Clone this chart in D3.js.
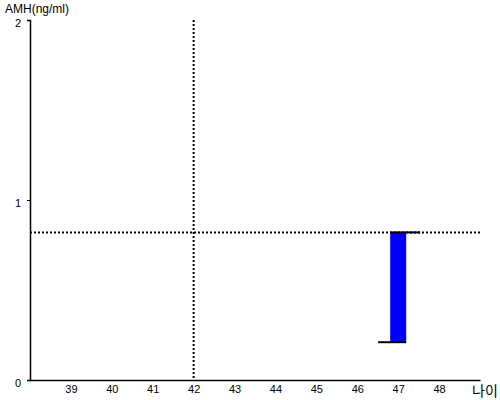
<!DOCTYPE html>
<html><head><meta charset="utf-8">
<script src="https://cdn.jsdelivr.net/npm/d3@7"></script>
<style>body{margin:0;background:#fff}text{font-family:Arial,"Liberation Sans",sans-serif}</style>
</head><body><svg id="c" width="500" height="400"></svg>
<script>
const xTicks = [39,40,41,42,43,44,45,46,47,48];
const yTicks = [0,1,2];
const barAges = [47];
const barLow = [0.21];
const barHigh = [0.82];
const refAge = [42];
const refAMH = [0.82];
const yTitle = "AMH(ng/ml)";
const xTitle = "나이";

const svg = d3.select("#c");
const x = d3.scaleLinear().domain([38,49]).range([30,480]);
const y = d3.scaleLinear().domain([0,2]).range([380,20]);

// y axis
const ya = svg.append("g").attr("transform","translate(30,0)")
  .call(d3.axisLeft(y).tickValues(yTicks).tickFormat(d3.format("d")).tickSize(3).tickPadding(6));
ya.select(".domain").attr("stroke","#000").attr("stroke-width",1.5);
ya.selectAll("text").attr("font-size",11).attr("fill","#000").attr("dy","0.55em");

// x axis
const xa = svg.append("g").attr("transform","translate(0,380)")
  .call(d3.axisBottom(x).tickValues(xTicks).tickSize(0).tickPadding(5));
xa.select(".domain").attr("stroke","#000").attr("stroke-width",1.5);
xa.selectAll("text").attr("font-size",11).attr("fill","#000");

// reference lines
svg.selectAll(".rv").data(refAge).enter().append("line")
  .attr("x1",d=>x(d)).attr("x2",d=>x(d)).attr("y1",y(2)).attr("y2",y(0))
  .attr("stroke","#000").attr("stroke-width",2).attr("stroke-dasharray","2,2");
svg.selectAll(".rh").data(refAMH).enter().append("line")
  .attr("x1",x(38)).attr("x2",x(49)).attr("y1",d=>y(d)).attr("y2",d=>y(d))
  .attr("stroke","#000").attr("stroke-width",2).attr("stroke-dasharray","2,2");

// bars
const bw = 16;
barAges.forEach((a,i)=>{
  const cx = x(a);
  svg.append("rect").attr("x",cx-8).attr("width",bw)
    .attr("y",y(barHigh[i])).attr("height",y(barLow[i])-y(barHigh[i]))
    .attr("fill","#0000ff");
  svg.append("line").attr("x1",cx-8).attr("x2",cx+22).attr("y1",y(barHigh[i])).attr("y2",y(barHigh[i]))
    .attr("stroke","#000").attr("stroke-width",2);
  svg.append("line").attr("x1",cx-20).attr("x2",cx+8).attr("y1",y(barLow[i])).attr("y2",y(barLow[i]))
    .attr("stroke","#000").attr("stroke-width",2);
});

svg.append("text").attr("x",5).attr("y",13).attr("font-size",12).attr("fill","#000").text(yTitle);
svg.append("text").attr("x",472).attr("y",396).attr("font-size",14).attr("fill","#000")
  .style("font-family","'Noto Sans CJK KR',sans-serif").text(xTitle);
</script></body></html>
